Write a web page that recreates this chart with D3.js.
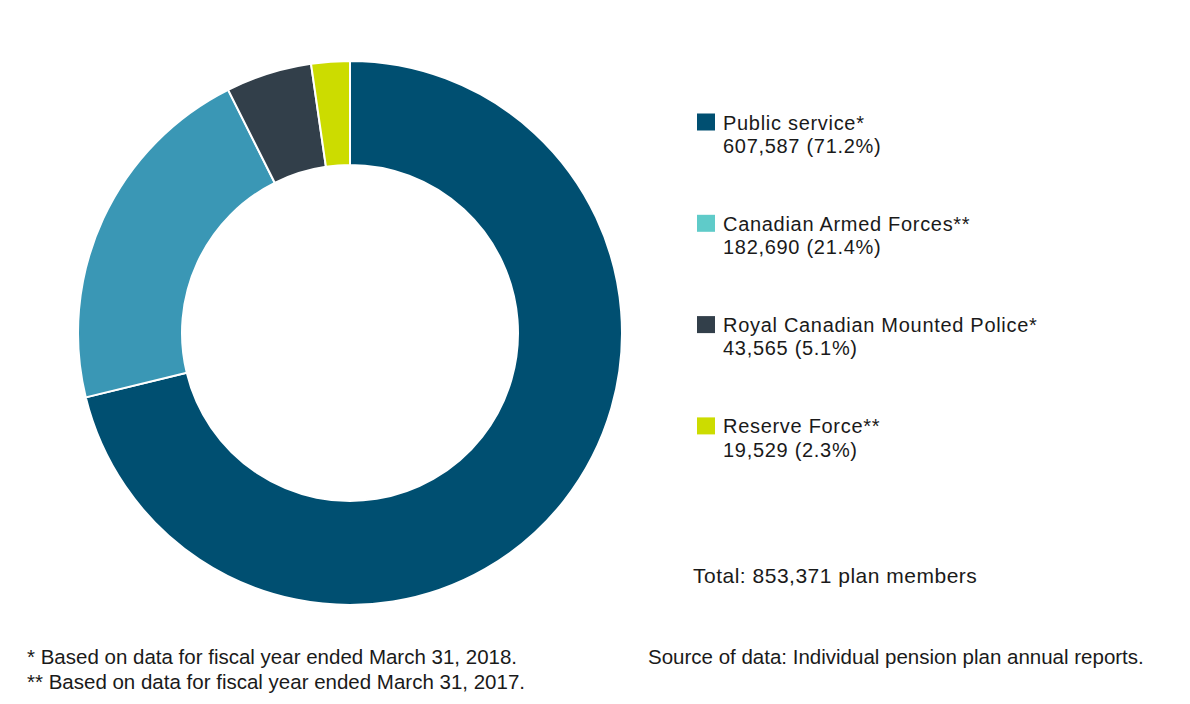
<!DOCTYPE html>
<html><head><meta charset="utf-8">
<script src="https://cdn.jsdelivr.net/npm/d3@7"></script>
<style>body{margin:0;background:#fff}svg{display:block}text{font-family:"Liberation Sans",Arial,Helvetica,sans-serif;fill:#1a1a1a}</style>
</head><body><svg id="c" width="1190" height="704"></svg>
<script>
const categories = ["Public service*", "Canadian Armed Forces**", "Royal Canadian Mounted Police*", "Reserve Force**"];
const values = [607587, 182690, 43565, 19529];
const percents = ["71.2%", "21.4%", "5.1%", "2.3%"];
const sliceColors = ["#004f71", "#3a97b5", "#323f4a", "#ccdc00"];
const swatchColors = ["#004f71", "#5fcbc9", "#323f4a", "#ccdc00"];
const totalLabel = "Total: 853,371 plan members";
const footnotes = ["* Based on data for fiscal year ended March 31, 2018.", "** Based on data for fiscal year ended March 31, 2017."];
const sourceLabel = "Source of data: Individual pension plan annual reports.";

const svg = d3.select("#c");
const cx = 350, cy = 333, rOuter = 272, rInner = 168;
const pie = d3.pie().sort(null).value(d => d)(values);
const arc = d3.arc().innerRadius(rInner).outerRadius(rOuter);
const g = svg.append("g").attr("transform", `translate(${cx},${cy})`);
g.selectAll("path").data(pie).join("path")
  .attr("d", arc).attr("fill", (d, i) => sliceColors[i])
  .attr("stroke", "#fff").attr("stroke-width", 2);

const fmt = d3.format(",");
const lg = svg.append("g").attr("transform", "translate(697,130)");
const item = lg.selectAll("g").data(categories).join("g")
  .attr("transform", (d, i) => `translate(0,${i * 101.3})`);
item.append("rect").attr("y", -16.5).attr("width", 18).attr("height", 17).attr("fill", (d, i) => swatchColors[i]);
item.append("text").attr("x", 26).attr("y", -0.5).attr("font-size", 20)
  .attr("letter-spacing", 0.7).text(d => d);
item.append("text").attr("x", 26).attr("y", 22.8).attr("font-size", 20)
  .attr("letter-spacing", 0.7)
  .text((d, i) => `${fmt(values[i])} (${percents[i]})`);

svg.append("text").attr("x", 693).attr("y", 583).attr("font-size", 21)
  .attr("letter-spacing", 0.5).text(totalLabel);
svg.selectAll(".fn").data(footnotes).join("text").attr("class", "fn")
  .attr("x", 27).attr("y", (d, i) => 664 + i * 25).attr("font-size", 20.5).text(d => d);
svg.append("text").attr("x", 648).attr("y", 664).attr("font-size", 20.5).text(sourceLabel);
</script></body></html>
